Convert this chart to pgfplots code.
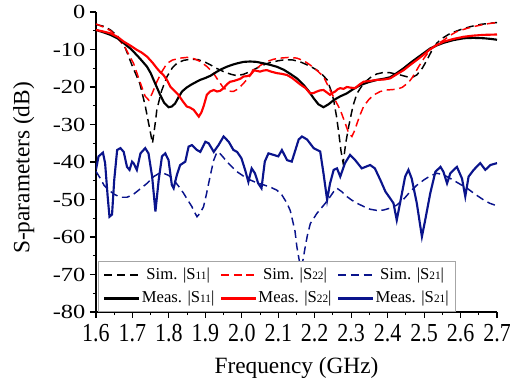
\documentclass[border=0pt]{standalone}
\usepackage{fontspec}
\setmainfont{Liberation Serif}
\usepackage{pgfplots}
\pgfplotsset{compat=1.18}
\definecolor{navy}{RGB}{10,20,140}
\newcommand{\Sx}[1]{S{\fontsize{8.5}{8.5}\selectfont #1}}
\newcommand{\XL}[1]{\scalebox{1}[1.18]{#1}}
\newcommand{\YL}[1]{\scalebox{1.22}[1]{#1}}
\begin{document}
\begin{tikzpicture}
\begin{axis}[
  name=ax,
  scale only axis, width=300.75pt, height=225pt,
  xmin=1.6, xmax=2.7, ymin=-80, ymax=0,
  axis lines=left, axis line style={-, line width=0.9pt},
  xtick={1.6,1.7,1.8,1.9,2.0,2.1,2.2,2.3,2.4,2.5,2.6,2.7},
  xticklabels={\XL{1.6},\XL{1.7},\XL{1.8},\XL{1.9},\XL{2.0},\XL{2.1},\XL{2.2},\XL{2.3},\XL{2.4},\XL{2.5},\XL{2.6},\XL{2.7}},
  ytick={-80,-70,-60,-50,-40,-30,-20,-10,0},
  yticklabels={\YL{-80},\YL{-70},\YL{-60},\YL{-50},\YL{-40},\YL{-30},\YL{-20},\YL{-10},\YL{0}},
  minor x tick num=1, minor y tick num=1,
  tick align=outside, major tick length=4.5pt, minor tick length=2.3pt,
  tick style={black, line width=0.8pt},
  xticklabel style={font=\fontsize{16.5}{16.5}\selectfont, yshift=-1.5pt},
  yticklabel style={font=\fontsize{15}{15}\selectfont},
  xlabel={Frequency (GHz)}, ylabel={S-parameters (dB)},
  xlabel style={font=\fontsize{17.5}{17.5}\selectfont, at={(axis description cs:0.5,-0.185)}, anchor=center},
  ylabel style={font=\fontsize{17.5}{17.5}\selectfont, at={(axis description cs:-0.18,0.48)}, anchor=center},
  legend columns=3,
  legend image code/.code={\draw[#1] (0pt,0pt) -- (26pt,0pt);},
  legend style={at={(axis description cs:0.004,0)}, anchor=south west, draw=gray!70, line width=0.7pt,
    font=\fontsize{12.5}{12.5}\selectfont, inner xsep=4pt, inner ysep=1pt,
    nodes={inner sep=1.2pt, text height=11pt, text depth=4.2pt},
    /tikz/every even column/.append style={column sep=3pt}},
]
\addlegendimage{black, line width=1.1pt, dash pattern=on 6pt off 3.5pt}
\addlegendentry{Sim. |\Sx{11}|}
\addlegendimage{red, line width=1.1pt, dash pattern=on 6pt off 3.5pt}
\addlegendentry{Sim. |\Sx{22}|}
\addlegendimage{navy, line width=1.1pt, dash pattern=on 6pt off 3.5pt}
\addlegendentry{Sim. |\Sx{21}|}
\addlegendimage{black, line width=1.6pt}
\addlegendentry{Meas. |\Sx{11}|}
\addlegendimage{red, line width=1.6pt}
\addlegendentry{Meas. |\Sx{22}|}
\addlegendimage{navy, line width=1.6pt}
\addlegendentry{Meas. |\Sx{21}|}
\addplot[forget plot, black, line width=1.1pt, dash pattern=on 6pt off 3.5pt] coordinates {
(1.60,-3.3) (1.62,-3.8) (1.64,-4.8) (1.66,-6.5) (1.68,-9.5) (1.70,-14.5) (1.72,-19) (1.735,-25) (1.745,-30) (1.755,-35) (1.762,-30) (1.767,-26) (1.78,-21) (1.795,-17.2) (1.81,-14.8) (1.822,-13.7) (1.84,-12.9) (1.86,-12.6) (1.88,-12.7) (1.90,-13.4) (1.914,-14.1) (1.93,-15) (1.95,-15.9) (1.97,-16.6) (1.987,-17) (2.005,-16.6) (2.023,-15.9) (2.04,-15) (2.06,-14.1) (2.08,-13.4) (2.10,-13) (2.12,-12.7) (2.14,-12.8) (2.16,-13.3) (2.17,-13.7) (2.19,-14.6) (2.206,-15.5) (2.22,-16.6) (2.234,-18.1) (2.245,-21) (2.252,-23.5) (2.26,-28) (2.266,-32.3) (2.272,-37) (2.278,-40.3) (2.285,-35) (2.293,-30.6) (2.305,-25) (2.316,-21.7) (2.33,-19.6) (2.339,-18.6) (2.355,-17.3) (2.371,-16.5) (2.39,-16.1) (2.407,-16.2) (2.42,-16.5) (2.435,-16.8) (2.458,-17.4) (2.47,-17.3) (2.48,-16.8) (2.495,-15) (2.508,-12.8) (2.52,-10.5) (2.535,-8.3) (2.55,-7) (2.572,-5.7) (2.60,-4.7) (2.627,-3.9) (2.655,-3.3) (2.682,-3.0) (2.70,-2.8)
};
\addplot[forget plot, red, line width=1.1pt, dash pattern=on 6pt off 3.5pt] coordinates {
(1.60,-3.2) (1.62,-4) (1.64,-5) (1.66,-7) (1.68,-9.5) (1.703,-13.7) (1.722,-19) (1.735,-22.5) (1.745,-23.5) (1.755,-21.5) (1.767,-18.6) (1.78,-16) (1.795,-13.7) (1.81,-12.8) (1.831,-12.3) (1.85,-12.1) (1.87,-12.5) (1.886,-13.2) (1.905,-14.6) (1.922,-16.3) (1.935,-18.2) (1.950,-20.3) (1.965,-21.1) (1.977,-21.2) (1.99,-20.5) (2.005,-19) (2.02,-17.3) (2.032,-15.9) (2.05,-14.3) (2.069,-13.2) (2.087,-12.6) (2.105,-12.3) (2.13,-12.1) (2.151,-12.3) (2.17,-13) (2.187,-14.1) (2.205,-15.5) (2.224,-17.2) (2.242,-20.8) (2.256,-23.5) (2.270,-26.1) (2.283,-29.5) (2.293,-32.3) (2.302,-33.2) (2.31,-31.5) (2.316,-29.7) (2.325,-27.3) (2.334,-25.2) (2.348,-23.4) (2.362,-22.1) (2.38,-21.2) (2.398,-20.8) (2.425,-20.6) (2.44,-20.1) (2.448,-19.5) (2.458,-18.7) (2.466,-17.7) (2.475,-16.3) (2.485,-14.6) (2.50,-12.3) (2.517,-10.1) (2.535,-8.6) (2.554,-7.5) (2.57,-6.3) (2.59,-5.2) (2.62,-4.3) (2.645,-3.7) (2.67,-3.2) (2.70,-2.8)
};
\addplot[forget plot, navy, line width=1.1pt, dash pattern=on 6pt off 3.5pt] coordinates {
(1.60,-42.5) (1.612,-44.4) (1.622,-46.2) (1.635,-47.5) (1.65,-48.6) (1.667,-49.4) (1.685,-49.4) (1.70,-48.8) (1.712,-47.9) (1.726,-46.8) (1.74,-45.7) (1.758,-43.9) (1.772,-43.1) (1.785,-43) (1.80,-43.6) (1.813,-44.8) (1.827,-46.5) (1.840,-48.3) (1.852,-50.2) (1.863,-51.9) (1.870,-53.3) (1.877,-54.6) (1.886,-53.6) (1.895,-51.9) (1.902,-49) (1.909,-45.7) (1.916,-42.5) (1.923,-39.5) (1.930,-37.8) (1.936,-37.3) (1.947,-38.5) (1.959,-39.9) (1.973,-41.3) (1.987,-42.6) (2.005,-43.8) (2.023,-44.8) (2.04,-45.5) (2.06,-46.1) (2.078,-46.7) (2.096,-47.5) (2.11,-48.8) (2.124,-51) (2.133,-53) (2.139,-55.5) (2.146,-58.5) (2.151,-62.6) (2.158,-66.5) (2.163,-68) (2.168,-66) (2.174,-62.6) (2.18,-59.5) (2.188,-56.4) (2.206,-53.7) (2.229,-51) (2.242,-49.3) (2.252,-47.9) (2.261,-47) (2.274,-47.9) (2.288,-49.2) (2.302,-50.2) (2.316,-51) (2.335,-51.9) (2.352,-52.6) (2.37,-52.9) (2.389,-52.8) (2.407,-52.3) (2.425,-51.5) (2.445,-49.8) (2.462,-47.9) (2.48,-46.2) (2.499,-44.8) (2.517,-43.7) (2.535,-43) (2.553,-43.4) (2.572,-44.4) (2.595,-45.7) (2.618,-47) (2.64,-48.6) (2.663,-50.1) (2.68,-51) (2.70,-51.7)
};
\addplot[forget plot, black, line width=1.6pt] coordinates {
(1.60,-4.8) (1.62,-5.4) (1.64,-6.1) (1.66,-7.1) (1.676,-8.3) (1.695,-9.8) (1.712,-11.5) (1.725,-12.9) (1.74,-14.6) (1.75,-16.3) (1.758,-18.1) (1.767,-20.1) (1.776,-22.1) (1.787,-24.2) (1.799,-25.4) (1.808,-25.2) (1.817,-24.4) (1.826,-22.8) (1.836,-21.2) (1.848,-20.2) (1.859,-19.5) (1.872,-18.8) (1.886,-18.1) (1.90,-17.6) (1.914,-17) (1.932,-15.9) (1.945,-15.2) (1.959,-14.6) (1.973,-14.1) (1.987,-13.7) (2.005,-13.3) (2.023,-13.2) (2.04,-13.3) (2.06,-13.7) (2.078,-14.1) (2.096,-14.6) (2.115,-15.4) (2.133,-16.5) (2.151,-17.7) (2.170,-19.5) (2.185,-21.3) (2.197,-23) (2.21,-24.6) (2.224,-25.4) (2.238,-24.6) (2.252,-23.5) (2.27,-22.5) (2.288,-21.7) (2.305,-20.6) (2.325,-19.5) (2.348,-18.7) (2.371,-18.1) (2.39,-17.8) (2.407,-17.4) (2.425,-16.3) (2.444,-15) (2.462,-13.6) (2.48,-12.3) (2.50,-10.9) (2.517,-9.7) (2.535,-8.9) (2.554,-8.2) (2.58,-7.5) (2.609,-7) (2.635,-6.9) (2.664,-7) (2.685,-7.2) (2.70,-7.4)
};
\addplot[forget plot, red, line width=1.6pt] coordinates {
(1.60,-4.8) (1.62,-5.2) (1.64,-5.7) (1.66,-6.7) (1.676,-7.9) (1.695,-9) (1.712,-10.1) (1.725,-10.8) (1.74,-11.9) (1.755,-13.5) (1.767,-15) (1.776,-16) (1.785,-16.8) (1.795,-18.2) (1.804,-19.9) (1.815,-21) (1.826,-22.1) (1.838,-23.8) (1.849,-25.2) (1.858,-25.5) (1.868,-26.1) (1.875,-27) (1.882,-27.9) (1.889,-26.8) (1.895,-25.2) (1.900,-23.5) (1.904,-22.1) (1.913,-21.2) (1.923,-20.8) (1.932,-21.2) (1.941,-21) (1.950,-20.3) (1.960,-19.2) (1.968,-18.6) (1.978,-18.4) (1.987,-18.1) (1.996,-17.8) (2.005,-17.2) (2.015,-17.1) (2.023,-16.8) (2.032,-15.5) (2.041,-15.7) (2.05,-15.9) (2.06,-15.6) (2.069,-15.5) (2.08,-15.9) (2.096,-16.3) (2.11,-16.5) (2.124,-16.8) (2.138,-17.6) (2.151,-18.6) (2.16,-19.3) (2.175,-20.3) (2.187,-21.7) (2.197,-21.6) (2.206,-21.2) (2.215,-20.9) (2.224,-20.8) (2.234,-21.5) (2.242,-22.1) (2.25,-21.5) (2.256,-21.2) (2.263,-20.6) (2.27,-20.3) (2.279,-20.5) (2.288,-20) (2.30,-20.2) (2.311,-20.3) (2.322,-19.4) (2.334,-18.6) (2.35,-18.4) (2.371,-18.1) (2.39,-18) (2.407,-17.7) (2.425,-16.6) (2.444,-15.5) (2.462,-14.1) (2.48,-12.8) (2.50,-11.3) (2.517,-9.9) (2.535,-8.8) (2.554,-7.9) (2.58,-7.2) (2.609,-6.6) (2.635,-6.3) (2.664,-6.1) (2.70,-6.0)
};
\addplot[forget plot, navy, line width=1.6pt] coordinates {
(1.600,-42) (1.607,-38.5) (1.619,-37.5) (1.625,-40.3) (1.632,-49.2) (1.637,-54.6) (1.644,-54) (1.650,-44.8) (1.658,-36.8) (1.667,-36.3) (1.676,-37.3) (1.685,-41.3) (1.692,-42.1) (1.699,-39.9) (1.703,-40.3) (1.712,-42.1) (1.722,-37.7) (1.735,-36.3) (1.744,-37.7) (1.754,-43.9) (1.763,-53.2) (1.772,-44.8) (1.781,-38.5) (1.790,-37.7) (1.799,-39.5) (1.808,-46.1) (1.813,-47) (1.822,-43.4) (1.831,-40.8) (1.845,-39.9) (1.854,-35.9) (1.863,-35.5) (1.877,-36.8) (1.886,-37.3) (1.900,-34.6) (1.909,-35) (1.923,-37.3) (1.936,-35.5) (1.950,-33.2) (1.964,-34.6) (1.977,-36.8) (1.987,-37.3) (1.999,-39) (2.009,-42.1) (2.018,-45.3) (2.027,-41.7) (2.036,-43) (2.045,-45.7) (2.054,-47) (2.063,-39.9) (2.073,-37.7) (2.087,-38.1) (2.100,-38.5) (2.110,-36.8) (2.124,-39.5) (2.137,-39.9) (2.147,-36.8) (2.156,-34) (2.165,-33.2) (2.179,-34) (2.197,-36.3) (2.215,-37.2) (2.224,-43) (2.234,-50.1) (2.242,-45.7) (2.252,-42.1) (2.261,-41.7) (2.270,-43.9) (2.283,-40.3) (2.297,-38.1) (2.311,-39.5) (2.329,-41.7) (2.352,-40.8) (2.365,-41.7) (2.380,-44.8) (2.394,-47.9) (2.407,-49.7) (2.416,-51) (2.425,-55.5) (2.434,-51) (2.448,-43.9) (2.457,-42.1) (2.466,-44.4) (2.480,-51) (2.494,-59.9) (2.503,-55.5) (2.517,-48.3) (2.531,-42.6) (2.545,-41.3) (2.553,-42.6) (2.563,-45.7) (2.572,-43) (2.590,-41.3) (2.604,-44.4) (2.613,-49.2) (2.622,-43.9) (2.636,-42.1) (2.654,-40.3) (2.668,-42.1) (2.682,-40.8) (2.700,-40.3)
};
\end{axis}
\pgfresetboundingbox
\path[use as bounding box] ([shift={(-72pt,-51.75pt)}]ax.south west) rectangle ([shift={(9.75pt,9pt)}]ax.north east);
\end{tikzpicture}
\end{document}
